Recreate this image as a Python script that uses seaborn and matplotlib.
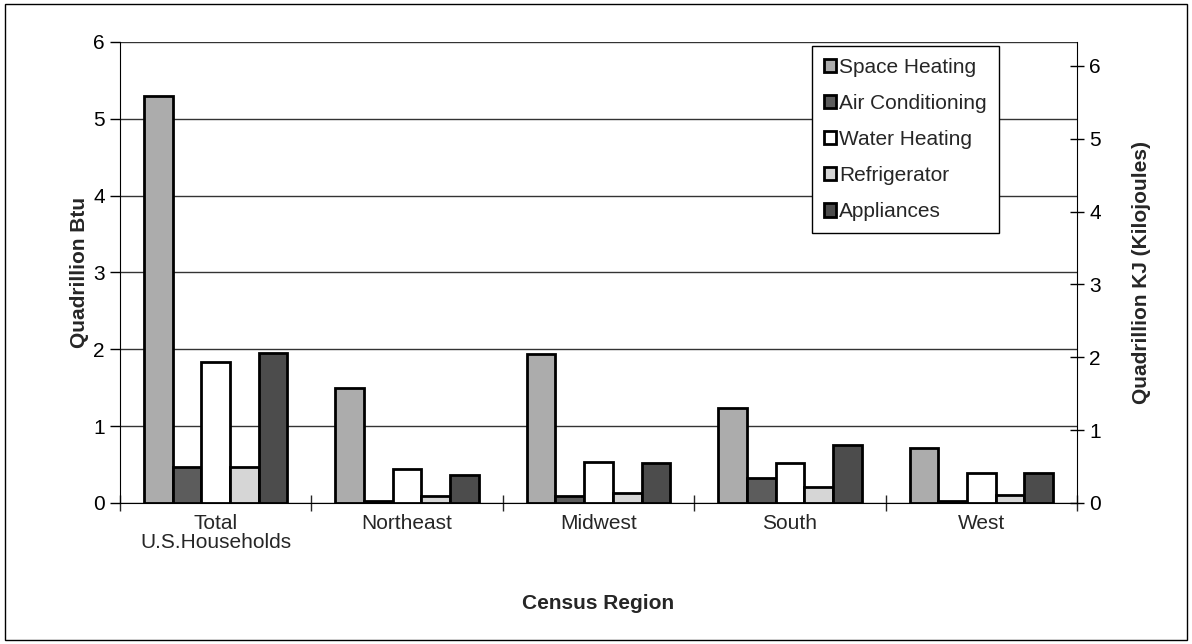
import numpy as np
import pandas as pd
import matplotlib
matplotlib.use("Agg")
import matplotlib.pyplot as plt
import seaborn as sns

# -- Data -----------------------------------------------------------------------
regions = ["Total\nU.S.Households", "Northeast", "Midwest", "South", "West"]
end_uses = ["Space Heating", "Air Conditioning", "Water Heating", "Refrigerator", "Appliances"]

space_heating    = [5.30, 1.50, 1.94, 1.23, 0.72]
air_conditioning = [0.47, 0.03, 0.09, 0.33, 0.03]
water_heating    = [1.84, 0.44, 0.53, 0.52, 0.39]
refrigerator     = [0.47, 0.09, 0.13, 0.21, 0.10]
appliances       = [1.95, 0.37, 0.52, 0.75, 0.39]

BTU_TO_KJ = 1.055

colors = ["#acacac", "#5c5c5c", "#ffffff", "#d6d6d6", "#4c4c4c"]

df = pd.DataFrame({
    "region": regions * 5,
    "use": np.repeat(end_uses, len(regions)),
    "value": space_heating + air_conditioning + water_heating + refrigerator + appliances,
})

# -- Plot -----------------------------------------------------------------------
sns.set_style("white")
plt.rcParams["font.family"] = ["Liberation Sans", "DejaVu Sans"]
plt.rcParams["font.size"] = 15

fig = plt.figure(figsize=(11.92, 6.44), dpi=100)
ax = fig.add_axes([0.1007, 0.219, 0.8028, 0.716])

sns.barplot(data=df, x="region", y="value", hue="use", hue_order=end_uses,
            order=regions, palette=colors, width=0.75, gap=0,
            edgecolor="black", linewidth=2, ax=ax, legend=True)

ax.set_ylim(0, 6)
ax.set_xlim(-0.5, len(regions) - 0.5)
ax.set_yticks(range(7))
ax.yaxis.grid(True, color="#333333", lw=1)
ax.set_axisbelow(True)
for s in ["top", "right"]:
    ax.spines[s].set_visible(False)
ax.spines["left"].set_color("black")
ax.spines["bottom"].set_color("black")
ax.tick_params(axis="y", direction="out", length=7, width=1, left=True,
               colors="black", labelsize=15, pad=4)
ax.tick_params(axis="x", which="major", length=0, pad=8, labelsize=15)
ax.set_xticks(np.arange(-0.5, len(regions)), minor=True)
ax.tick_params(axis="x", which="minor", direction="inout", length=12, width=1, bottom=True)
for t in ax.get_xticklabels():
    t.set_linespacing(1.0)

ax.set_xlabel("Census Region", fontweight="bold", fontsize=15, labelpad=30)
ax.set_ylabel("Quadrillion Btu", fontweight="bold", fontsize=15, labelpad=3)

# right axis in kilojoules
ax2 = ax.twinx()
ax2.set_ylim(0, 6 * BTU_TO_KJ)
ax2.set_yticks(range(7))
for s in ["top", "left", "bottom"]:
    ax2.spines[s].set_visible(False)
ax2.spines["right"].set_color("black")
ax2.tick_params(axis="y", direction="inout", length=10, width=1, right=True,
                colors="black", labelsize=15, pad=4)
ax2.set_ylabel("Quadrillion KJ (Kilojoules)", fontweight="bold", fontsize=15, labelpad=22)

# legend
handles, labels = ax.get_legend_handles_labels()
ax.legend_.remove()
leg = ax2.legend(handles, labels, loc="upper right", bbox_to_anchor=(0.918, 0.99),
                 frameon=True, fancybox=False, edgecolor="black", framealpha=1,
                 handlelength=0.6, handleheight=0.6, handletextpad=0.15,
                 labelspacing=0.82, borderpad=0.55, borderaxespad=0, fontsize=15)
leg.get_frame().set_linewidth(1)

# outer border
fig.patches.append(plt.Rectangle((0.004, 0.006), 0.992, 0.988, transform=fig.transFigure,
                                 fill=False, edgecolor="black", lw=1))

fig.savefig("out.png", dpi=100)
